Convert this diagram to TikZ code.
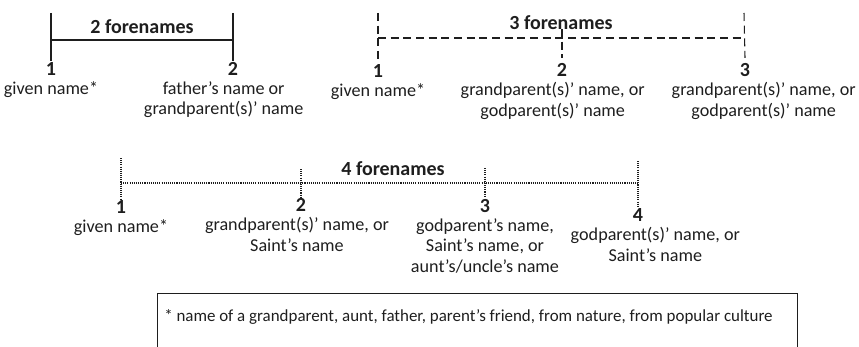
\documentclass[tikz,border=0pt]{standalone}
\usepackage{fontspec}
\setmainfont{Carlito}
\usepackage{xcolor}
\usetikzlibrary{positioning}
\definecolor{ink}{HTML}{1E1E1E}

\tikzset{
  num/.style={font=\fontsize{15}{17}\selectfont\bfseries, text=ink, inner sep=0pt},
  lbl/.style={font=\fontsize{13.6}{15.4}\selectfont, text=ink, align=center, inner sep=0pt},
  ttl/.style={font=\fontsize{15}{17}\selectfont\bfseries, text=ink, inner sep=0pt},
  solidbar/.style={ink, line width=1.5pt},
  dashbar/.style={ink, line width=0.8pt, dash pattern=on 6pt off 3.5pt},
  dotbar/.style={ink, line width=0.8pt, dash pattern=on 0.8pt off 0.8pt}
}

\begin{document}
\begin{tikzpicture}[x=0.75pt, y=-0.75pt]
\useasboundingbox (0,0) rectangle (859,346);

% two forenames
\coordinate (p1top) at (51,13);
\coordinate (p2top) at (233,13);
\node[num] (p1) at (51,69) {1};
\node[num] (p2) at (233,69) {2};
\node[lbl, below=4pt of p1] (p1txt) {given name*};
\node[lbl, below=4pt of p2, xshift=-7pt] (p2txt) {father’s name or\\grandparent(s)’ name};
\node[ttl] (p12) at (142,27) {2 forenames};
\draw[solidbar] (p1top) -- ([yshift=1pt]p1.north);
\draw[solidbar] (p2top) -- ([yshift=1pt]p2.north);
\draw[solidbar] (51,40) coordinate (p1mid) -- (233,40) coordinate (p2mid);

% three forenames
\coordinate (q1top) at (378,13);
\coordinate (q2top) at (562,29);
\coordinate (q3top) at (744,13);
\node[num] (q1) at (378,71) {1};
\node[num] (q2) at (562,70) {2};
\node[num] (q3) at (745,70) {3};
\node[lbl, below=4pt of q1] (q1txt) {given name*};
\node[lbl, below=4pt of q2, xshift=-7pt] (q2txt) {grandparent(s)’ name, or\\godparent(s)’ name};
\node[lbl, below=4pt of q3, xshift=14pt] (q3txt) {grandparent(s)’ name, or\\godparent(s)’ name};
\node[ttl] (q123) at (561,23) {3 forenames};
\draw[dashbar] (q1top) -- ([yshift=2pt]q1.north);
\draw[dashbar] (q2top) -- ([yshift=4pt]q2.north);
\draw[dashbar] (q3top) -- ([yshift=4pt]q3.north);
\draw[dashbar] (378,38) coordinate (q1mid) -- (744,38) coordinate (q3mid);

% four forenames
\coordinate (r1top) at (121,158);
\coordinate (r2top) at (301,169);
\coordinate (r3top) at (485,168);
\coordinate (r4top) at (638,161);
\node[num] (r1) at (121,207) {1};
\node[num] (r2) at (301,205) {2};
\node[num] (r3) at (485,206) {3};
\node[num] (r4) at (638,215) {4};
\node[lbl, below=4pt of r1] (r1txt) {given name*};
\node[lbl, below=4pt of r2, xshift=-3pt] (r2txt) {grandparent(s)’ name, or\\Saint’s name};
\node[lbl, below=4pt of r3] (r3txt) {godparent’s name,\\Saint’s name, or\\aunt’s/uncle’s name};
\node[lbl, below=4pt of r4, xshift=13pt] (r4txt) {godparent(s)’ name, or\\Saint’s name};
\node[ttl] (r1234) at (393,169) {4 forenames};
\draw[dotbar] (r1top) -- ([yshift=1pt]r1.north);
\draw[dotbar] (r2top) -- ([yshift=1pt]r2.north);
\draw[dotbar] (r3top) -- ([yshift=1pt]r3.north);
\draw[dotbar] (r4top) -- ([yshift=1pt]r4.north);
\draw[dotbar] (121,183) coordinate (r1mid) -- (638,183) coordinate (r4mid);

% footnote
\draw[ink, line width=0.6pt] (157,350) -- (157,293) -- (797,293) -- (797,350);
\node[lbl, font=\fontsize{12.7}{15}\selectfont, anchor=west] (note) at (164,317)
  {* name of a grandparent, aunt, father, parent’s friend, from nature, from popular culture};
\end{tikzpicture}
\end{document}
